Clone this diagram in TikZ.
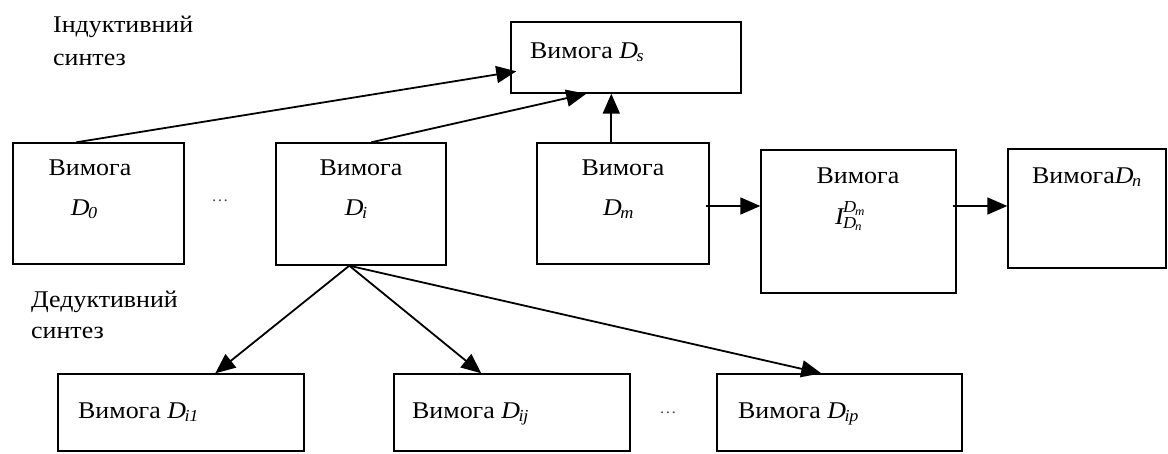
\documentclass[tikz,border=0pt]{standalone}
\usepackage{fontspec}
\setmainfont{Liberation Serif}[FakeStretch=1.08]
\usetikzlibrary{arrows.meta,fit,calc}
\newcommand{\Dd}[1]{\mathit{D}_{\mathit{#1}}}
\begin{document}
\begin{tikzpicture}[x=1pt,y=-1pt,
  box/.style={draw, line width=1.4pt, inner sep=0pt},
  txt/.style={inner sep=0pt, font=\fontsize{24}{28}\selectfont},
  dotsstyle/.style={inner sep=0pt, font=\fontsize{16}{18}\selectfont, text=black!70},
  arr/.style={line width=1.8pt, -{Triangle[length=20pt,width=17pt]}}]
\useasboundingbox (0,0) rectangle (1168,453);
\clip (0,0) rectangle (1168,453);
% boxes
\node[box, fit={(511,22) (741,93)}] (Ds) {};
\node[box, fit={(13,143) (184,264)}] (D0) {};
\node[box, fit={(276,143) (446,265)}] (Di) {};
\node[box, fit={(537,143) (709,264)}] (Dm) {};
\node[box, fit={(761,150) (956,293)}] (I) {};
\node[box, fit={(1008,149) (1166,268)}] (Dn) {};
\node[box, fit={(58,374) (304,451)}] (Di1) {};
\node[box, fit={(394,374) (630,451)}] (Dij) {};
\node[box, fit={(717,374) (962,451)}] (Dip) {};
% labels
\node[txt, anchor=base west] (ind1) at (53,32) {Індуктивний};
\node[txt, anchor=base west] (ind2) at (53,65) {синтез};
\node[txt, anchor=base west] (ded1) at (31,307) {Дедуктивний};
\node[txt, anchor=base west] (ded2) at (31,338) {синтез};
% texts in boxes
\node[txt, anchor=base west] (tDs) at (530,58) {Вимога $\Dd{s}$};
\node[txt, anchor=base] (tD0a) at (90,175) {Вимога};
\node[txt, anchor=base] (tD0b) at (84,215) {$\Dd{0}$};
\node[txt, anchor=base] (tDia) at (361,175) {Вимога};
\node[txt, anchor=base] (tDib) at (356,215) {$\Dd{i}$};
\node[txt, anchor=base] (tDma) at (623,175) {Вимога};
\node[txt, anchor=base] (tDmb) at (618,215) {$\Dd{m}$};
\node[txt, anchor=base] (tIa) at (858,183) {Вимога};
\node[txt, anchor=base] (tIb) at (850,224) {$\mathit{I}^{\Dd{m}}_{\Dd{n}}$};
\node[txt, anchor=base west] (tDn) at (1032,183) {Вимога$\Dd{n}$};
\node[txt, anchor=base west] (tDi1) at (78,418) {Вимога $\Dd{i1}$};
\node[txt, anchor=base west] (tDij) at (412,418) {Вимога $\Dd{ij}$};
\node[txt, anchor=base west] (tDip) at (738,418) {Вимога $\Dd{ip}$};
\node[dotsstyle] (dots1) at (220,201) {\dots};
\node[dotsstyle] (dots2) at (668,413) {\dots};
% connectors
\coordinate (h1) at (0,206);
\coordinate (dib) at ($(Di.south west)+(74,0)$);
\draw[arr] ($(D0.north west)+(64,0)$) -- ($(Ds.north west)+(6,50)$);
\draw[arr] ($(Di.north west)+(96,0)$) -- ($(Ds.south west)+(76,0)$);
\draw[arr] ($(Dm.north west)+(75,0)$) -- ($(Ds.south west)+(101,0)$);
\draw[arr] ($(Dm.east |- h1)+(-4,0)$) -- (I.west |- h1);
\draw[arr] ($(I.east |- h1)+(-4,0)$) -- (Dn.west |- h1);
\draw[arr] (dib) -- ($(Di1.north west)+(158,0)$);
\draw[arr] (dib) -- ($(Dij.north west)+(88,0)$);
\draw[arr] (dib) -- ($(Dip.north west)+(105,0)$);
\end{tikzpicture}
\end{document}
